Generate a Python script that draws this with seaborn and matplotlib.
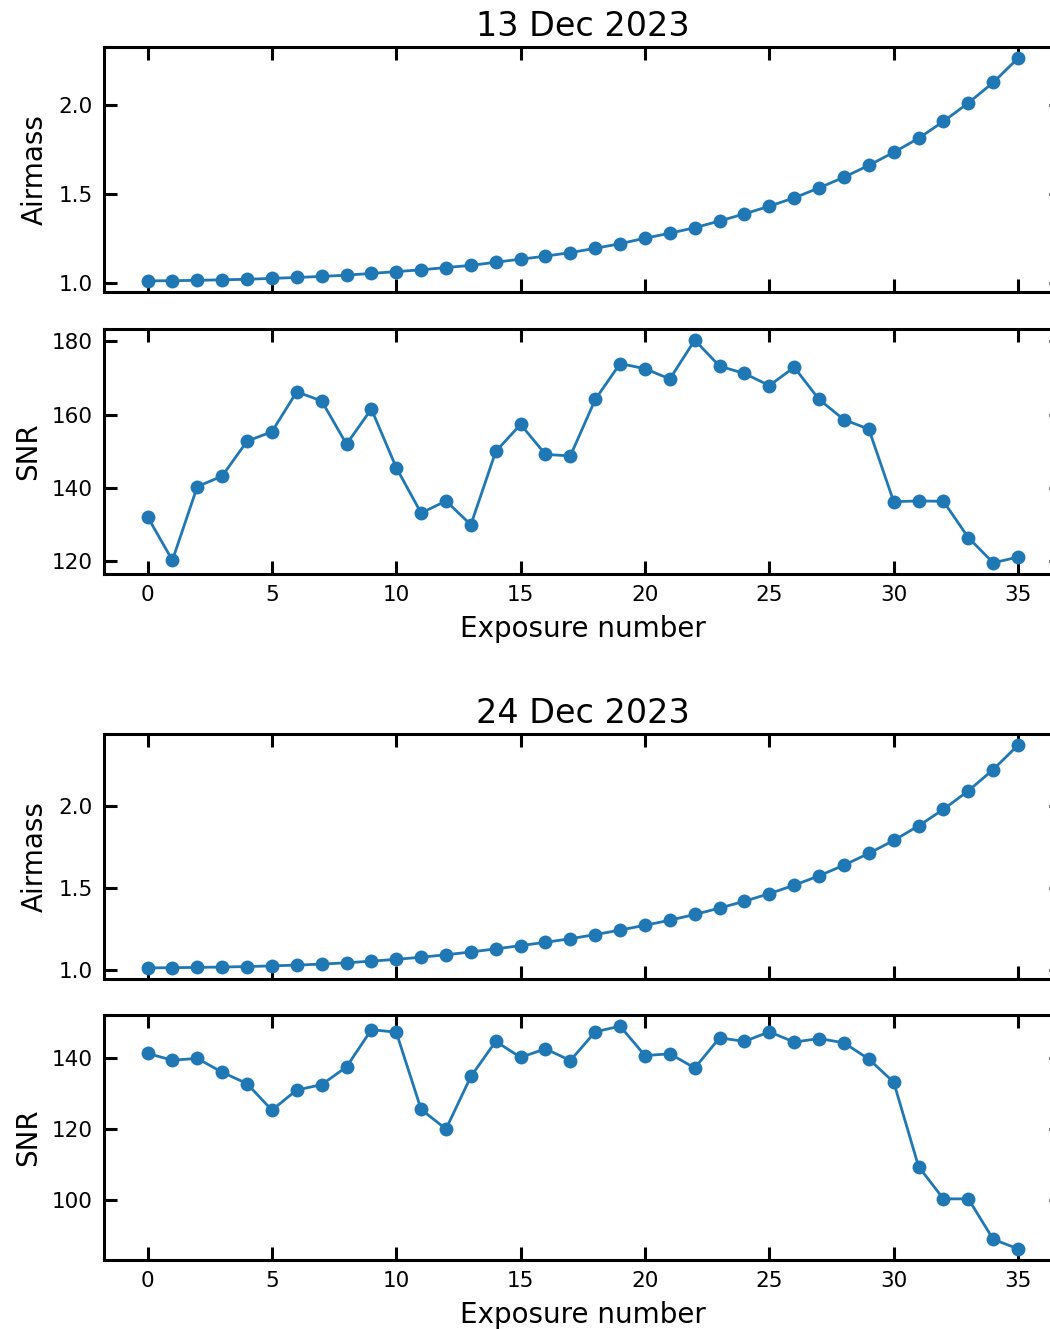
import matplotlib
matplotlib.use("Agg")
import matplotlib.pyplot as plt
from matplotlib.ticker import MultipleLocator
import numpy as np
import pandas as pd
import seaborn as sns

# Exposure index for each night
exposures = list(range(36))

# 13 Dec 2023
dec13_airmass = [1.013, 1.014, 1.016, 1.019, 1.022, 1.027, 1.032, 1.038, 1.045, 1.055,
                 1.065, 1.075, 1.088, 1.100, 1.118, 1.135, 1.152, 1.172, 1.196, 1.222,
                 1.253, 1.281, 1.312, 1.350, 1.390, 1.433, 1.480, 1.536, 1.596, 1.663,
                 1.736, 1.815, 1.910, 2.014, 2.129, 2.266]
dec13_snr = [132.1, 120.2, 140.3, 143.2, 152.7, 155.3, 166.2, 163.7, 151.9, 161.5,
             145.5, 133.1, 136.4, 129.9, 149.9, 157.3, 149.1, 148.7, 164.1, 173.9,
             172.5, 169.7, 180.3, 173.2, 171.2, 167.9, 172.9, 164.1, 158.6, 156.0,
             136.2, 136.4, 136.3, 126.4, 119.5, 121.1]

# 24 Dec 2023
dec24_airmass = [1.012, 1.013, 1.015, 1.017, 1.020, 1.024, 1.029, 1.035, 1.043, 1.053,
                 1.064, 1.077, 1.092, 1.109, 1.128, 1.148, 1.168, 1.190, 1.215, 1.243,
                 1.272, 1.303, 1.338, 1.377, 1.419, 1.465, 1.517, 1.574, 1.639, 1.711,
                 1.790, 1.879, 1.980, 2.093, 2.223, 2.372]
dec24_snr = [141.3, 139.4, 139.9, 136.0, 132.8, 125.3, 131.0, 132.5, 137.5, 148.0,
             147.3, 125.5, 120.0, 134.8, 144.7, 140.2, 142.6, 139.3, 147.4, 149.0,
             140.7, 141.2, 137.2, 145.7, 144.7, 147.4, 144.5, 145.5, 144.3, 139.7,
             133.2, 109.4, 100.3, 100.3, 88.9, 86.2]

nights = ["13 Dec 2023", "24 Dec 2023"]

sns.set_theme(style="white")
plt.rcParams.update({
    "font.family": ["DejaVu Sans"],
    "text.color": "black",
    "axes.linewidth": 2.2,
    "axes.edgecolor": "black",
    "xtick.direction": "in",
    "ytick.direction": "in",
    "xtick.top": True,
    "xtick.bottom": True,
    "ytick.left": True,
    "ytick.right": True,
    "xtick.major.size": 9.5,
    "ytick.major.size": 9.5,
    "xtick.major.width": 2.2,
    "ytick.major.width": 2.2,
    "xtick.major.pad": 8,
    "ytick.major.pad": 8,
    "xtick.labelsize": 15.5,
    "ytick.labelsize": 15.5,
    "axes.labelsize": 20,
    "axes.titlesize": 24,
    "axes.labelpad": 7,
    "xtick.color": "black",
    "ytick.color": "black",
    "axes.labelcolor": "black",
})

W, H = 1050, 1329
fig = plt.figure(figsize=(W / 100, H / 100), dpi=100)

left_px, right_px = 104, 1061.6
panel_tops = [47, 329, 734, 1015]
panel_h = 245


def make_axes(top_px):
    return fig.add_axes([left_px / W, (H - top_px - panel_h) / H,
                         (right_px - left_px) / W, panel_h / H])


color = "#1f77b4"
line_kw = dict(marker="o", markersize=10, linewidth=2, color=color,
               markeredgecolor=color, markeredgewidth=0)

data_sets = [(dec13_airmass, dec13_snr), (dec24_airmass, dec24_snr)]

for i, (airmass, snr) in enumerate(data_sets):
    df = pd.DataFrame({"exposure": exposures, "airmass": airmass, "snr": snr})
    ax_a = make_axes(panel_tops[2 * i])
    ax_s = make_axes(panel_tops[2 * i + 1])

    sns.lineplot(data=df, x="exposure", y="airmass", ax=ax_a, **line_kw)
    sns.lineplot(data=df, x="exposure", y="snr", ax=ax_s, **line_kw)

    ax_a.set_title(nights[i], pad=8, color="black")
    ax_a.set_ylabel("Airmass")
    ax_a.set_xlabel("")
    ax_a.tick_params(labelbottom=False)
    ax_a.yaxis.set_major_locator(MultipleLocator(0.5))
    ax_a.xaxis.set_major_locator(MultipleLocator(5))

    ax_s.set_ylabel("SNR")
    ax_s.set_xlabel("Exposure number")
    ax_s.yaxis.set_major_locator(MultipleLocator(20))
    ax_s.xaxis.set_major_locator(MultipleLocator(5))

    for ax in (ax_a, ax_s):
        ax.set_xlim(-1.75, 36.75)
        for s in ax.spines.values():
            s.set_visible(True)
            s.set_linewidth(2.2)

fig.savefig("out.png", dpi=100)
